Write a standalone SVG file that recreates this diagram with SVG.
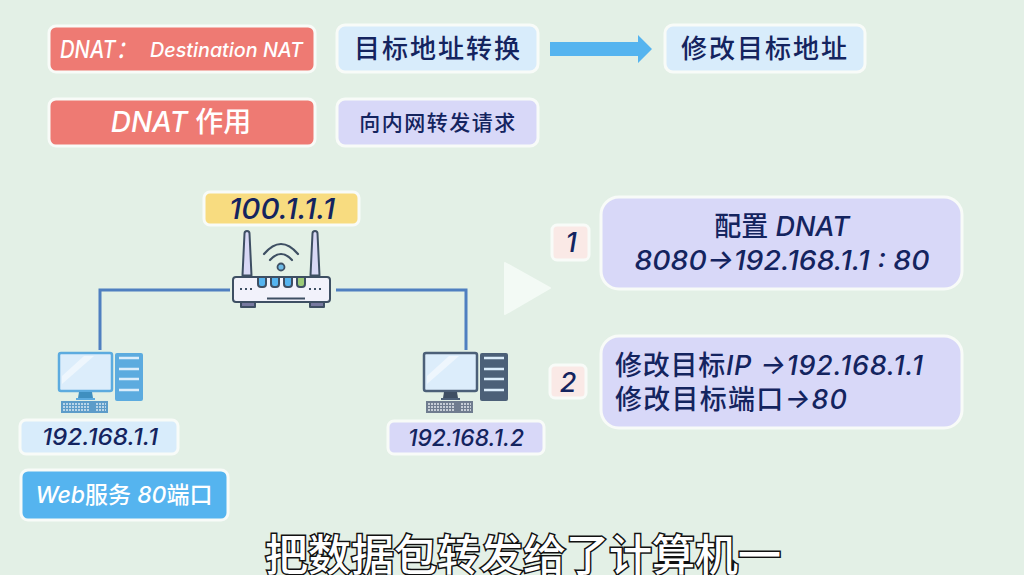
<svg xmlns="http://www.w3.org/2000/svg" width="1024" height="575" viewBox="0 0 1024 575">
<defs>
<style>
text{font-family:"Inter","Noto Sans CJK SC",sans-serif;font-style:italic;font-weight:500;text-anchor:middle}
tspan.c{font-style:normal;font-family:"Noto Sans CJK SC",sans-serif}
.b{stroke:#f8fbf8;stroke-width:3}
.red{fill:#ee7a73}.blue{fill:#d8ecfb}.pur{fill:#d8d8f8}.sky{fill:#55b4ef}.yel{fill:#f8dc80}.pink{fill:#fae9e6}
.w{fill:#fff}.n{fill:#14245f}
.line{fill:none;stroke:#4f7fc0;stroke-width:3}
.o{stroke:#3e4f63;stroke-width:2;stroke-linejoin:round;stroke-linecap:round}
</style>
</defs>
<rect width="1024" height="575" fill="#e3f0e6"/>
<g id="connectors">
<path class="line" d="M230 290H100V350"/>
<path class="line" d="M336 290H466V350"/>
<polygon fill="#55b4ef" points="550,42 638,42 638,35 652,49 638,63 638,56 550,56"/>
</g>
<g id="dnat-def"><rect class="b red" x="49" y="26" width="266" height="46" rx="7"/><text class="w" x="60" y="58" font-size="24" style="text-anchor:start" textLength="76" lengthAdjust="spacingAndGlyphs">DNAT：</text><text class="w" x="150" y="57" font-size="20" style="text-anchor:start" textLength="153" lengthAdjust="spacingAndGlyphs">Destination NAT</text></g>
<g id="dest-convert"><rect class="b blue" x="337" y="25" width="201" height="47" rx="8"/><text class="n" x="438" y="58" font-size="26" letter-spacing="2"><tspan class="c">目标地址转换</tspan></text></g>
<g id="modify-dest"><rect class="b blue" x="665" y="25" width="200" height="47" rx="8"/><text class="n" x="765" y="58" font-size="26" letter-spacing="2"><tspan class="c">修改目标地址</tspan></text></g>
<g id="dnat-role"><rect class="b red" x="49" y="99" width="266" height="47" rx="7"/><text class="w" x="181" y="132" font-size="28">DNAT <tspan class="c">作用</tspan></text></g>
<g id="forward"><rect class="b pur" x="337" y="99" width="201" height="47" rx="8"/><text class="n" x="438" y="130" font-size="21" letter-spacing="1.5"><tspan class="c">向内网转发请求</tspan></text></g>
<g id="public-ip"><rect class="b yel" x="204" y="192" width="155" height="33" rx="6"/><text class="n" x="282" y="219" font-size="29" textLength="106" lengthAdjust="spacingAndGlyphs">100.1.1.1</text></g>
<g id="router">
<path class="o" fill="#d8d8f5" d="M247 231a2.500 2.500 0 0 1 2.500 2.500l2 42h-9l2-42a2.500 2.500 0 0 1 2.500-2.500zM315 231a2.500 2.500 0 0 1 2.500 2.500l2 42h-9l2-42a2.500 2.500 0 0 1 2.500-2.500z"/>
<path d="M264 254q17-20 34 0M270 260q11-12 22 0" fill="none" stroke="#3e4f63" stroke-width="2.200" stroke-linecap="round"/>
<circle cx="281" cy="267" r="3.500" fill="#6fbce8" stroke="#3e4f63" stroke-width="1.800"/>
<path class="o" fill="#77799f" d="M241 302h14v5h-14zM310 302h14v5h-14z"/>
<rect class="o" fill="#f2f2fb" x="233" y="277" width="97" height="25" rx="3"/>
<path class="o" fill="#55b4ef" d="M258 277h8v7a3 3 0 0 1-3 3h-2a3 3 0 0 1-3-3zM271 277h8v7a3 3 0 0 1-3 3h-2a3 3 0 0 1-3-3zM284 277h8v7a3 3 0 0 1-3 3h-2a3 3 0 0 1-3-3z"/>
<path class="o" fill="#9ccb78" d="M297 277h8v7a3 3 0 0 1-3 3h-2a3 3 0 0 1-3-3z"/>
<path d="M240 289h13M309 289h13" stroke="#3e4f63" stroke-width="2" stroke-dasharray="2 3" fill="none"/>
<path d="M267 298.500h38" stroke="#3e4f63" stroke-width="2" fill="none"/>
</g>
<g id="pc1">
<rect x="59" y="353" width="53" height="38" rx="2" fill="#dcedfb" stroke="#5cabdf" stroke-width="2.500"/>
<path d="M62 376l22-20h10l-32 28z" fill="#eef6fd"/>
<path d="M79 392h13l1 6h-15z" fill="#3f8fc0"/><path d="M76 398h19v2h-19z" fill="#5cabdf"/>
<rect x="115" y="353" width="28" height="48" rx="2" fill="#5cabdf"/>
<path d="M119 358h20M119 369h20M119 379h20M119 390h20" stroke="#dcedfb" stroke-width="2.500"/>
<rect x="61" y="401" width="47" height="12" fill="#5c9cc9"/>
<path d="M63 404h26M63 407h26M63 410h26M96 404h10M96 407h10M96 410h10" stroke="#d8e8f2" stroke-width="1.500" stroke-dasharray="2 1"/>
</g>
<g id="pc2">
<rect x="424" y="353" width="53" height="38" rx="2" fill="#dcedfb" stroke="#4c6078" stroke-width="2.500"/>
<path d="M427 376l22-20h10l-32 28z" fill="#eef6fd"/>
<path d="M444 392h13l1 6h-15z" fill="#3e4f63"/><path d="M441 398h19v2h-19z" fill="#4c6078"/>
<rect x="480" y="353" width="28" height="48" rx="2" fill="#4c6078"/>
<path d="M484 358h20M484 369h20M484 379h20M484 390h20" stroke="#dcedfb" stroke-width="2.500"/>
<rect x="426" y="401" width="47" height="12" fill="#6f7c8f"/>
<path d="M428 404h26M428 407h26M428 410h26M461 404h10M461 407h10M461 410h10" stroke="#e4e8ee" stroke-width="1.500" stroke-dasharray="2 1"/>
</g>
<g id="ip1"><rect class="b blue" x="20" y="420" width="158" height="34" rx="6"/><text class="n" x="100" y="445" font-size="23" textLength="116" lengthAdjust="spacingAndGlyphs">192.168.1.1</text></g>
<g id="ip2"><rect class="b pur" x="388" y="421" width="156" height="33" rx="6"/><text class="n" x="466" y="446" font-size="23" textLength="116" lengthAdjust="spacingAndGlyphs">192.168.1.2</text></g>
<g id="web"><rect class="b sky" x="21" y="470" width="207" height="50" rx="7"/><text class="w" x="124" y="503" font-size="23">Web<tspan class="c">服务</tspan> 80<tspan class="c">端口</tspan></text></g>
<polygon id="play" points="505,263 550,288 505,314" fill="#f3faf5" stroke="#f3faf5" stroke-width="2" stroke-linejoin="round"/>
<g id="n1"><rect class="b pink" x="552" y="225" width="37" height="35" rx="5"/><text class="n" x="571" y="252" font-size="27">1</text></g>
<g id="n2"><rect class="b pink" x="550" y="365" width="36" height="33" rx="5"/><text class="n" x="568" y="392" font-size="27">2</text></g>
<g id="step1"><rect class="b pur" x="601" y="197" width="361" height="92" rx="18"/><text class="n" x="782" y="236" font-size="27"><tspan class="c">配置</tspan> DNAT</text><text class="n" x="782" y="270" font-size="27" textLength="295" lengthAdjust="spacingAndGlyphs">8080→192.168.1.1 : 80</text></g>
<g id="step2"><rect class="b pur" x="601" y="336" width="361" height="92" rx="18"/><text class="n" x="615" y="375" font-size="27" style="text-anchor:start" textLength="308" lengthAdjust="spacing"><tspan class="c">修改目标</tspan>IP →192.168.1.1</text><text class="n" x="615" y="409" font-size="27" style="text-anchor:start" textLength="232" lengthAdjust="spacing"><tspan class="c">修改目标端口</tspan>→80</text></g>
<text id="subtitle" x="523" y="571" font-size="43" font-weight="500" fill="#fff" stroke="#111" stroke-width="3" paint-order="stroke" style="font-style:normal;font-family:'Noto Sans CJK SC',sans-serif">把数据包转发给了计算机一</text>
</svg>
